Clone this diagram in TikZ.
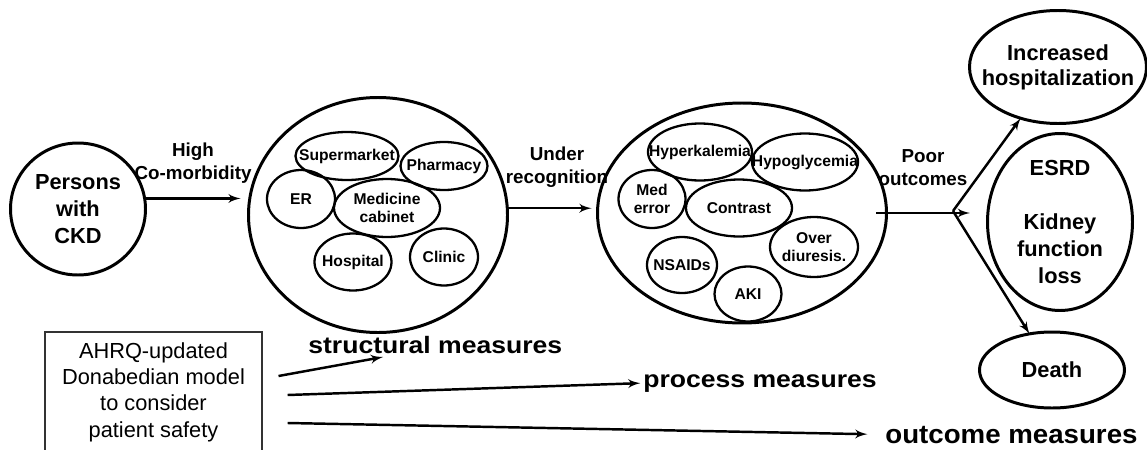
\documentclass[tikz,border=0pt]{standalone}
\usepackage{graphicx}
\usepackage{fontspec}
\setmainfont{Liberation Sans}
\usepackage{tikz}
\usetikzlibrary{arrows,shapes.geometric}

\tikzset{
  ell/.style 2 args={ellipse, draw, line width=1.3pt, minimum width=#1*0.02cm,
    minimum height=#2*0.02cm, inner sep=0pt, outer sep=0pt},
  big/.style={line width=1.7pt},
  lbl/.style={font=\fontsize{8.9}{10.6}\selectfont\bfseries, align=center, inner sep=0pt},
  txt/.style={font=\fontsize{12.4}{15.3}\selectfont\bfseries, align=center, inner sep=0pt},
  mid/.style={font=\fontsize{10.7}{13}\selectfont\bfseries, align=center, inner sep=0pt},
  measure/.style={font=\fontsize{13.5}{15}\selectfont\bfseries, inner sep=0pt, anchor=base west},
  arr/.style={-latex', line width=1.4pt}
}

\begin{document}
\begin{tikzpicture}[x=0.02cm,y=-0.02cm]
                \useasboundingbox (0,0) rectangle (1147,450);

                \node[ell={135}{132}, big, label={[txt]center:{Persons\\with\\CKD}}] (ckd) at (78,209) {};

                \node[ell={259}{235}, big] (struct) at (378,215) {};
                \node[ell={103}{48}, label={[lbl]center:Supermarket}] (supermarket) at (347,156) {};
                \node[ell={87}{48}, label={[lbl]center:Pharmacy}] (pharmacy) at (444,166) {};
                \node[ell={68}{58}, label={[lbl]center:ER}] (er) at (301,199) {};
                \node[ell={106}{58}, label={[lbl]center:{Medicine\\cabinet}}] (cabinet) at (387,208) {};
                \node[ell={77}{57}, label={[lbl]center:Hospital}] (hospital) at (353,262) {};
                \node[ell={68}{57}, label={[lbl]center:Clinic}] (clinic) at (444,257) {};

                \node[ell={289}{220}, big] (proc) at (742,213) {};
                \node[ell={104}{57}, label={[lbl]center:Hyperkalemia}] (hyperk) at (700,152) {};
                \node[ell={106}{57}, label={[lbl]center:Hypoglycemia}] (hypog) at (805,162) {};
                \node[ell={67}{58}, label={[lbl]center:{Med\\error}}] (mederr) at (652,199) {};
                \node[ell={106}{57}, label={[lbl]center:Contrast}] (contrast) at (739,208) {};
                \node[ell={88}{60}, label={[lbl]center:{Over\\diuresis.}}] (diuresis) at (814,247) {};
                \node[ell={70}{56}, label={[lbl]center:NSAIDs}] (nsaids) at (682,265) {};
                \node[ell={67}{55}, label={[lbl]center:AKI}] (aki) at (748,294) {};

                \node[ell={177}{113}, big, label={[txt,font=\fontsize{12.4}{14.2}\selectfont\bfseries]center:{Increased\\hospitalization}}] (hosp) at (1058,67) {};
                \node[ell={145}{177}, big, label={[txt]center:{ESRD\\[15.3pt]Kidney\\function\\loss}}] (esrd) at (1060,222) {};
                \node[ell={145}{76}, big, label={[txt]center:Death}] (death) at (1052,370) {};

                \node[mid] (comorb) at (193,163) {High\\Co-morbidity};
                \node[mid] (underrec) at (557,167) {Under\\recognition};
                \node[mid] (poor) at (923,168) {Poor\\outcomes};

                \node[draw=black!80, line width=0.6pt, minimum width=217*0.02cm, minimum height=120*0.02cm,
                  font=\fontsize{12.4}{15}\selectfont, align=center] (ahrq) at (153.5,392)
                  {AHRQ-updated\\Donabedian model\\to consider\\patient safety};

                \node[measure] (smeas) at (308,353) {\scalebox{1.12}[1]{structural measures}};
                \node[measure] (pmeas) at (643,387) {\scalebox{1.12}[1]{process measures}};
                \node[measure, font=\fontsize{15}{17}\selectfont\bfseries] (omeas) at (885,443) {\scalebox{1.05}[1]{outcome measures}};

                \coordinate (fork) at (953,211);

                \draw[arr, shorten >=4.5pt] (ckd.9) -- (ckd.9 -| struct.west);
                \draw[arr, shorten >=3.4pt] (struct.3) -- (struct.3 -| proc.west);
                \draw[arr, shorten >=10pt] ([xshift=-5.7pt]proc.east) -- (proc.east -| esrd.west);
                \draw[arr] (fork) -- (hosp);
                \draw[arr] (fork) -- (death);

                \draw[arr] ([shift={(16,-16)}]ahrq.east) -- ([shift={(75,4)}]smeas.base west);
                \draw[arr, shorten >=1.5pt] ([shift={(25,3)}]ahrq.east) -- (pmeas.west);
                \draw[arr, shorten >=10pt] ([shift={(25,31)}]ahrq.east) -- (omeas.west);
            \end{tikzpicture}
\end{document}
